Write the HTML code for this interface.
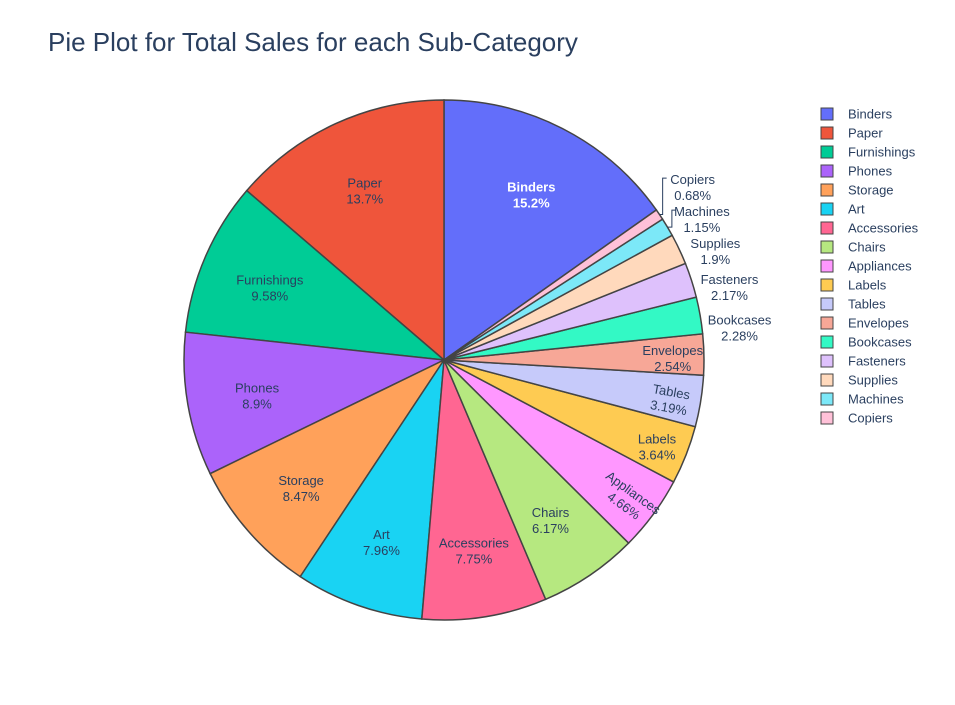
<!DOCTYPE html>
<html><head><meta charset="utf-8"><style>
body{margin:0;background:#fff;font-family:"Liberation Sans",Arial,sans-serif}
svg text{font-family:"Liberation Sans",Arial,sans-serif}
</style></head><body>
<svg id="chart" width="955" height="700" xmlns="http://www.w3.org/2000/svg">
<rect width="955" height="700" fill="#fff"/>
<text x="48" y="51" font-size="26" fill="#2a3f5f">Pie Plot for Total Sales for each Sub-Category</text>
<g id="slices"></g><g id="labels"></g><g id="legend"></g>
</svg>
<script>
const categories=["Binders","Paper","Furnishings","Phones","Storage","Art","Accessories","Chairs","Appliances","Labels","Tables","Envelopes","Bookcases","Fasteners","Supplies","Machines","Copiers"];
const values=[15.2,13.7,9.58,8.9,8.47,7.96,7.75,6.17,4.66,3.64,3.19,2.54,2.28,2.17,1.9,1.15,0.68];
const colors=["#636efa","#EF553B","#00cc96","#ab63fa","#FFA15A","#19d3f3","#FF6692","#B6E880","#FF97FF","#FECB52","#c6cafa","#f7a797","#33f9c5","#dec1fc","#ffd9bc","#7ce8f8","#ffc1d8"];
const NS="http://www.w3.org/2000/svg";
const cx=444,cy=360,R=260;
const total=values.reduce((a,b)=>a+b,0);
function pt(a,r){return [cx+r*Math.sin(a),cy-r*Math.cos(a)];}
const gS=document.getElementById('slices'),gL=document.getElementById('labels'),gG=document.getElementById('legend');
const start=values[0]/total*2*Math.PI;
let cum=0;
const info=[];
values.forEach((v,i)=>{
  const a1=start-cum/total*2*Math.PI; cum+=v;
  const a0=start-cum/total*2*Math.PI;
  info.push({a0,a1,mid:(a0+a1)/2,frac:v/total});
});
let prevY=Infinity;
for(let i=0;i<values.length;i++){
  const d=info[i];
  d.outside=d.frac<0.023;
  if(d.outside){
    let [tx,ty]=pt(d.mid,R+40); ty+=20;
    if(prevY-32<ty) ty=prevY-32;
    prevY=ty; d.tx=tx; d.ty=ty;
  }
}
values.forEach((v,i)=>{
  const d=info[i];
  const [x0,y0]=pt(d.a0,R),[x1,y1]=pt(d.a1,R);
  const large=(d.a1-d.a0)>Math.PI?1:0;
  const p=document.createElementNS(NS,'path');
  p.setAttribute('d',`M${cx},${cy}L${x0},${y0}A${R},${R} 0 ${large} 1 ${x1},${y1}Z`);
  p.setAttribute('fill',colors[i]);p.setAttribute('stroke','#444');p.setAttribute('stroke-width','1.5');
  
  
  gS.appendChild(p);
  const pct=v+'%';
  let tx,ty,rot=0;
  if(d.outside){tx=d.tx;ty=d.ty;}
  else{[tx,ty]=pt(d.mid,R*(d.frac<0.05?0.88:0.73));ty+=4;}
  if(categories[i]==="Appliances")rot=36;
  if(categories[i]==="Tables")rot=10;
  const t=document.createElementNS(NS,'text');
  t.setAttribute('text-anchor','middle');t.setAttribute('font-size','13');
  t.setAttribute('fill',i===0?'#fff':'#2a3f5f');
  if(i===0)t.setAttribute('font-weight','bold');
  t.setAttribute('transform',`translate(${tx},${ty}) rotate(${rot})`);
  
  
  const s1=document.createElementNS(NS,'tspan');s1.setAttribute('x',0);s1.setAttribute('y',-4);s1.textContent=categories[i];
  const s2=document.createElementNS(NS,'tspan');s2.setAttribute('x',0);s2.setAttribute('y',12);s2.textContent=pct;
  t.appendChild(s1);t.appendChild(s2);gL.appendChild(t);
  if(d.outside&&d.frac<0.013){
    const [ex,ey]=pt(d.mid,R);
    const lx=tx-30;
    const l=document.createElementNS(NS,'path');
    l.setAttribute('d',`M${ex},${ey}L${lx},${ey}L${lx},${ty-10}L${lx+4},${ty-10}`);
    l.setAttribute('fill','none');l.setAttribute('stroke','#2a3f5f');
    
    
    gL.appendChild(l);
  }
  const ly=114+i*19;
  const g=document.createElementNS(NS,'g');
  
  
  const r=document.createElementNS(NS,'rect');
  r.setAttribute('x',821);r.setAttribute('y',ly-6);r.setAttribute('width',12);r.setAttribute('height',12);
  r.setAttribute('fill',colors[i]);r.setAttribute('stroke','#444');r.setAttribute('stroke-width','1');
  const lt=document.createElementNS(NS,'text');
  lt.setAttribute('x',848);lt.setAttribute('y',ly+4.5);lt.setAttribute('font-size','13');lt.setAttribute('fill','#2a3f5f');
  lt.textContent=categories[i];
  g.appendChild(r);g.appendChild(lt);gG.appendChild(g);
});
</script>
</body></html>
